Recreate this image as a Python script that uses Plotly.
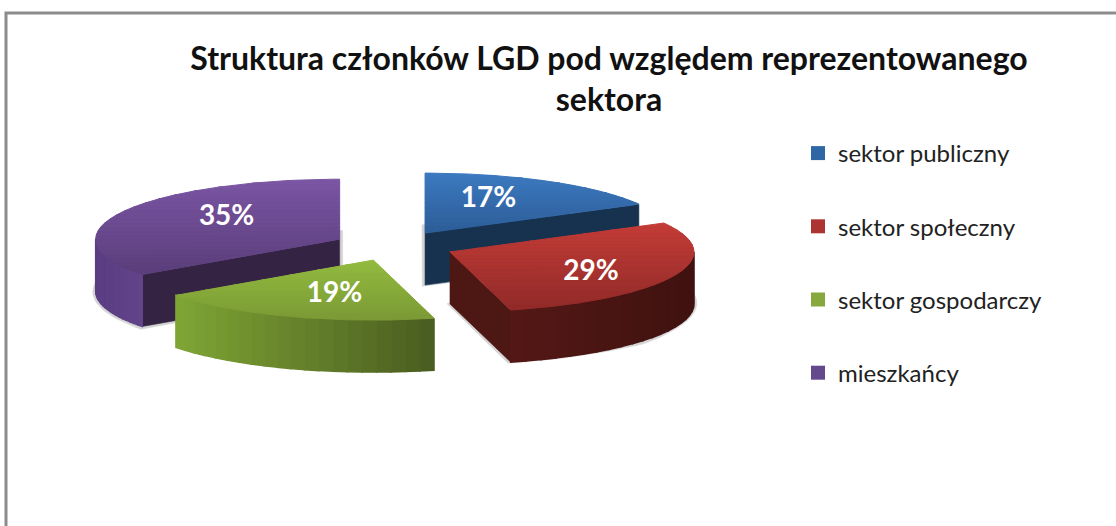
import numpy as np
import plotly.graph_objects as go

# --- data ---
categories = ["sektor publiczny", "sektor społeczny", "sektor gospodarczy", "mieszkańcy"]
values = [17, 29, 19, 35]
title_lines = ["Struktura członków LGD pod względem reprezentowanego", "sektora"]

# --- styles ---
swatch = ["#2f66a6", "#ac3431", "#86a83c", "#644a8c"]
top_colors = [("#3d7ac0", "#2c5d98"), ("#c43c37", "#902a28"),
              ("#93bb3f", "#7b9a35"), ("#7b56a4", "#5a3d7a")]
wall_colors = [("#17324f", "#17324f"), ("#541815", "#3f1210"),
               ("#7fa535", "#4a5c20"), ("#5a3d82", "#62448a")]
radial_colors = ["#17324f", "#4d1714", None, "#352344"]
label_pos = [(0.51, 0.64), (0.63, 0.89), (0.47, 0.62), (0.52, 0.77)]

CX, CY, RX, RY, DEPTH, EXPLODE = 394.0, 246.0, 244.0, 60.0, 52.0, 0.25
W, H = 1116, 526


def hexrgb(c):
    return np.array([int(c[i:i + 2], 16) for i in (1, 3, 5)], float)


def mix(a, b, t):
    v = hexrgb(a) * (1 - t) + hexrgb(b) * t
    return "rgb(%d,%d,%d)" % tuple(v.round())


def pt(ax, ay, deg, rx=RX, ry=RY):
    r = np.radians(deg)
    return ax + rx * np.sin(r), ay - ry * np.cos(r)


def clip_band(poly, y0, y1):
    def clip(p, keep, cross):
        out = []
        for i in range(len(p)):
            a, b = p[i], p[(i + 1) % len(p)]
            if keep(a):
                out.append(a)
            if keep(a) != keep(b):
                t = (cross - a[1]) / (b[1] - a[1])
                out.append((a[0] + t * (b[0] - a[0]), cross))
        return out
    p = clip(poly, lambda q: q[1] >= y0, y0)
    if p:
        p = clip(p, lambda q: q[1] <= y1, y1)
    return p


fig = go.Figure()


def add_poly(poly, color, lw=0.6):
    xs = [p[0] for p in poly] + [poly[0][0]]
    ys = [p[1] for p in poly] + [poly[0][1]]
    fig.add_trace(go.Scatter(x=xs, y=ys, mode="lines", fill="toself", fillcolor=color,
                             line=dict(color=color, width=lw), showlegend=False,
                             hoverinfo="skip"))


# angular layout from the values
total = sum(values)
starts = np.cumsum([0] + values[:-1]) / total * 360
ends = np.cumsum(values) / total * 360
mids = (starts + ends) / 2
apex = [pt(CX, CY, m, RX * EXPLODE, RY * EXPLODE) for m in mids]

# painter's order, back to front
order = [3, 0, 1, 2]

# soft shadow
for i in [3, 0, 1]:
    ax, ay = apex[i]
    arc = [pt(ax, ay + DEPTH, a) for a in np.linspace(starts[i], ends[i], 50)]
    poly = [(ax, ay + DEPTH)] + arc
    gx, gy = np.mean([p[0] for p in poly]), np.mean([p[1] for p in poly])
    grown = []
    for x, y in poly:
        d = np.hypot(x - gx, y - gy)
        grown.append((x + (x - gx) / d * 3, y + (y - gy) / d * 3))
    add_poly(grown, "#d4d4d4")

for i in order:
    ax, ay = apex[i]
    a0, a1 = starts[i], ends[i]
    # radial faces
    if radial_colors[i]:
        edge = a0 if i == 3 else a1
        ex, ey = pt(ax, ay, edge)
        add_poly([(ax, ay), (ex, ey), (ex, ey + DEPTH), (ax, ay + DEPTH)], radial_colors[i])
    # outer wall (only the part facing the viewer), shaded in thin strips
    w0, w1 = max(a0, 90), min(a1, 270)
    if w1 > w0:
        xa, _ = pt(ax, ay, w0)
        xb, _ = pt(ax, ay, w1)
        grid = np.linspace(w0, w1, 21)
        xmin, xmax = min(xa, xb), max(xa, xb)
        for g0, g1 in zip(grid[:-1], grid[1:]):
            p0, p1 = pt(ax, ay, g0), pt(ax, ay, g1)
            t = ((p0[0] + p1[0]) / 2 - xmin) / (xmax - xmin)
            add_poly([p0, p1, (p1[0], p1[1] + DEPTH), (p0[0], p0[1] + DEPTH)],
                     mix(wall_colors[i][0], wall_colors[i][1], t), lw=1.5)
    # top face with a vertical gradient
    poly = [(ax, ay)] + [pt(ax, ay, a) for a in np.linspace(a0, a1, 80)]
    ymin, ymax = min(p[1] for p in poly), max(p[1] for p in poly)
    edges = np.linspace(ymin, ymax, 25)
    for y0, y1 in zip(edges[:-1], edges[1:]):
        band = clip_band(poly, y0, y1)
        if len(band) >= 3:
            add_poly(band, mix(top_colors[i][0], top_colors[i][1], ((y0 + y1) / 2 - ymin) / (ymax - ymin)), lw=1)

# percentage labels
lx, ly = [], []
for i in range(len(values)):
    fx, fy = label_pos[i]
    x, _ = pt(apex[i][0], apex[i][1], mids[i], RX * fx, RY)
    _, y = pt(apex[i][0], apex[i][1], mids[i], RX, RY * fy)
    lx.append(x)
    ly.append(y)
fig.add_trace(go.Scatter(x=lx, y=ly, mode="text", text=[f"{v}%" for v in values],
                         textposition="middle center", showlegend=False, hoverinfo="skip",
                         textfont=dict(family="Lato", size=28, color="white", weight="bold")))

# legend entries
for i, name in enumerate(categories):
    fig.add_trace(go.Scatter(x=[None], y=[None], mode="markers", name=name, legendgroup=name,
                             marker=dict(symbol="square", size=14, color=swatch[i])))

fig.update_layout(
    width=W, height=H, autosize=False,
    margin=dict(l=0, r=0, t=0, b=0),
    paper_bgcolor="white", plot_bgcolor="white",
    xaxis=dict(range=[0, W], visible=False, fixedrange=True),
    yaxis=dict(range=[H, 0], visible=False, fixedrange=True),
    title=dict(text="<br>".join(title_lines), x=609 / W, xanchor="center",
               y=1 - 69.5 / H, yanchor="top",
               font=dict(family="Lato", size=32, color="#111111", weight="bold")),
    legend=dict(x=798 / W, xanchor="left", y=1 - 131 / H, yanchor="top",
                tracegroupgap=39, bgcolor="rgba(0,0,0,0)",
                font=dict(family="Lato", size=24, color="#222222")),
    font=dict(family="Lato"),
    shapes=[dict(type="rect", xref="x", yref="y", x0=6, y0=13, x1=W + 10, y1=H + 10,
                 line=dict(color="#8c8c8c", width=3), fillcolor="rgba(0,0,0,0)", layer="above")],
)

fig.write_html("out.html", config=dict(displayModeBar=False),
               post_script="document.body.style.margin='0';document.body.style.overflow='hidden';")
